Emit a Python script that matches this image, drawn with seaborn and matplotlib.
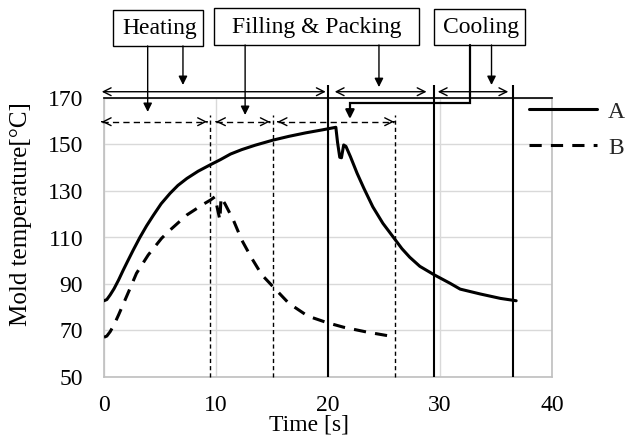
import matplotlib
matplotlib.use("Agg")
import matplotlib.pyplot as plt
import pandas as pd
import seaborn as sns
from matplotlib.lines import Line2D
from matplotlib.patches import Rectangle

# ---------------- data ----------------
time_A = [0, 0.25, 0.55, 0.9, 1.3, 1.7, 2.1, 2.6, 3.2, 3.8, 4.4, 5.1, 5.9, 6.6,
          7.4, 8.4, 9.5, 10.4, 11.3, 12.3, 13.5, 15.1, 16.5, 18.0, 19.5, 20.7,
          20.85, 21.05, 21.2, 21.4, 21.6, 22.0, 22.6, 23.2, 24.0, 24.9, 25.9,
          26.6, 27.3, 28.2, 29.5, 30.9, 31.8, 33.6, 35.4, 36.8]
temp_A = [82.8, 83.3, 85.3, 88.0, 91.7, 95.8, 99.7, 104.5, 110.0, 115.0, 119.5,
          124.5, 129.0, 132.4, 135.4, 138.5, 141.3, 143.5, 145.9, 147.8, 149.7,
          151.9, 153.5, 155.0, 156.3, 157.4, 151.0, 144.5, 144.3, 149.8, 149.2,
          144.8, 137.6, 131.2, 123.2, 116.1, 109.7, 105.2, 101.5, 97.6, 93.9,
          90.3, 87.8, 85.7, 83.8, 82.8]
time_B = [0, 0.25, 0.55, 0.9, 1.3, 1.75, 2.2, 2.9, 3.95, 5.15, 5.9, 7.4, 8.9,
          9.5, 9.9, 10.35, 10.45, 10.8, 11.55, 12.3, 13.2, 14.1, 15.1, 16.5,
          18.2, 19.9, 21.4, 23.5, 25.9]
temp_B = [67.1, 67.6, 69.5, 72.5, 76.7, 81.7, 86.7, 94.6, 102.5, 109.7, 113.2,
          119.7, 124.4, 126.1, 127.5, 117.5, 127.2, 124.5, 117.5, 108.9, 101.0,
          93.9, 88.8, 81.7, 76.2, 73.4, 71.4, 69.3, 67.3]
series_names = ["A", "B"]
x_ticks = [0, 10, 20, 30, 40]
y_ticks = [50, 70, 90, 110, 130, 150, 170]
phase_labels = ["Heating", "Filling & Packing", "Cooling"]
solid_phase_times = [20, 29.5, 36.5]
dashed_phase_times = [9.5, 15.05, 25.95]

# ---------------- style ----------------
sns.set_theme(style="white")
plt.rcParams["font.family"] = ["Liberation Serif", "DejaVu Serif"]
FS = 17

fig = plt.figure(figsize=(6.27, 4.44), dpi=100)
ax = fig.add_axes([104 / 627, 1 - 377 / 444, 448 / 627, 279 / 444])

df = pd.DataFrame({
    "time": time_A + time_B,
    "temp": temp_A + temp_B,
    "series": [series_names[0]] * len(time_A) + [series_names[1]] * len(time_B),
})
sns.lineplot(data=df, x="time", y="temp", style="series", style_order=series_names,
             dashes={"A": "", "B": (4, 3)}, color="black", linewidth=2.2,
             sort=False, estimator=None, errorbar=None, legend=False, ax=ax, zorder=5)

ax.set_xlim(0, 40)
ax.set_ylim(50, 170)
ax.set_xticks(x_ticks)
ax.set_yticks(y_ticks)
ax.grid(True, color="#d9d9d9", linewidth=1)
ax.set_axisbelow(True)
for s in ["left", "bottom", "right"]:
    ax.spines[s].set_color("#bfbfbf")
    ax.spines[s].set_linewidth(1.2)
ax.spines["top"].set_color("black")
ax.spines["top"].set_linewidth(1.2)
ax.tick_params(axis="both", length=0, labelsize=FS, colors="black")
ax.tick_params(axis="x", pad=13)
ax.tick_params(axis="y", pad=15)

ax.set_xlabel("Time [s]", fontsize=FS, color="black")
ax.set_ylabel("Mold temperature[°C]", fontsize=FS + 1, color="black")
ax.xaxis.set_label_coords(0.458, -0.135)
ax.yaxis.set_label_coords(-0.16, 0.584)

# phase boundary lines
ax.vlines(solid_phase_times, 50, 175.6, colors="black", linewidth=1.5, clip_on=False, zorder=4)
ax.vlines(dashed_phase_times, 50, 162.7, colors="black", linewidth=1.0,
          linestyles=(0, (3, 2.2)), clip_on=False, zorder=4)

# double arrows
def double_arrow(x0, x1, y, dashed=False):
    if dashed:
        ax.plot([x0, x1], [y, y], color="black", lw=1.0, ls=(0, (4.5, 3)),
                clip_on=False, zorder=6)
        for a, b in ((x0, x0 + 0.02), (x1, x1 - 0.02)):
            ax.annotate("", xy=(a, y), xytext=(b, y),
                        arrowprops=dict(arrowstyle="->", color="black", lw=1.0,
                                        mutation_scale=14, shrinkA=0, shrinkB=0),
                        annotation_clip=False, zorder=6)
    else:
        ax.annotate("", xy=(x1, y), xytext=(x0, y),
                    arrowprops=dict(arrowstyle="<->", color="black", lw=1.0,
                                    mutation_scale=14, shrinkA=0, shrinkB=0),
                    annotation_clip=False, zorder=6)

for x0, x1 in [(-0.2, 19.8), (20.6, 28.8), (29.8, 36.1)]:
    double_arrow(x0, x1, 172.7)
for x0, x1 in [(-0.2, 9.2), (10.0, 14.8), (15.5, 25.9)]:
    double_arrow(x0, x1, 159.8, dashed=True)

# labelled boxes
boxes = [(0.80, 8.84, 192.4, 207.8, 4.96),
         (9.82, 28.10, 192.8, 208.7, 18.96),
         (29.46, 37.60, 192.8, 208.3, 33.66)]
for label, (bx0, bx1, by0, by1, tx) in zip(phase_labels, boxes):
    ax.add_patch(Rectangle((bx0, by0), bx1 - bx0, by1 - by0, fill=False,
                           edgecolor="black", lw=1.0, clip_on=False))
    ax.text(tx, (by0 + by1) / 2 - 0.3, label, ha="center", va="center",
            fontsize=FS, color="black", clip_on=False)

def down_arrow(x, y0, y1, lw=1.0):
    ax.annotate("", xy=(x, y1), xytext=(x, y0),
                arrowprops=dict(arrowstyle="-|>", color="black", lw=lw,
                                mutation_scale=13, shrinkA=0, shrinkB=0),
                annotation_clip=False, zorder=6)

down_arrow(3.9, 192.4, 164.0)
down_arrow(7.05, 192.4, 175.6)
down_arrow(12.6, 192.8, 162.7)
down_arrow(24.55, 192.8, 174.7)
down_arrow(34.6, 192.8, 175.6)
# cooling elbow connector
ax.plot([32.7, 32.7, 21.96, 21.96], [192.8, 167.8, 167.8, 164.5], color="black",
        lw=1.6, clip_on=False, zorder=6, solid_joinstyle="miter")
down_arrow(21.96, 165.5, 161.0, lw=1.6)

# legend
handles = [Line2D([0], [0], color="black", lw=2.2, ls="-"),
           Line2D([0], [0], color="black", lw=2.2, dashes=(4, 3))]
fig.legend(handles, series_names, loc="upper left",
           bbox_to_anchor=(529 / 627, 1 - 101 / 444), frameon=False,
           fontsize=FS, handlelength=2.9, handletextpad=0.45,
           labelspacing=0.62, borderpad=0, borderaxespad=0)

fig.savefig("out.png", dpi=100)
